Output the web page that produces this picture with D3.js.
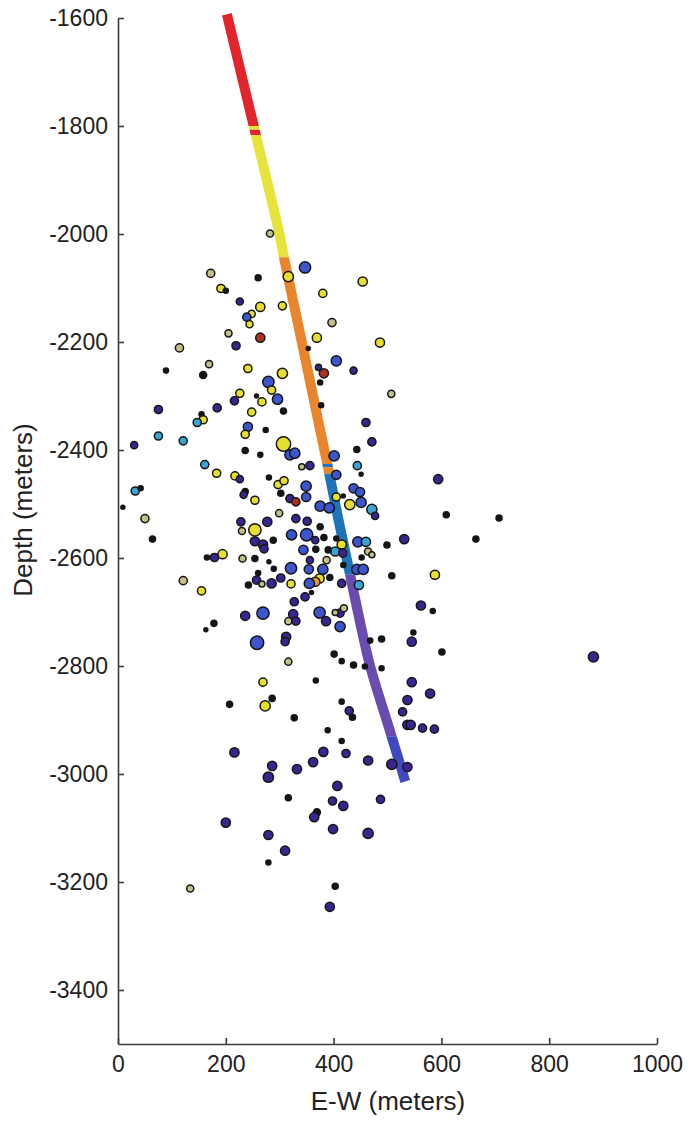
<!DOCTYPE html>
<html><head><meta charset="utf-8">
<script src="https://cdn.jsdelivr.net/npm/d3@7"></script>
<style>body{margin:0;background:#fff} svg{display:block}</style>
</head><body><svg id="chart" width="693" height="1124"></svg>
<script>
// ---- Data ----
const eventEW = [172,260,316,347,191,200,226,264,305,248,239,244,205,264,219,114,169,89,158,241,305,279,285,226,216,257,267,296,307,248,184,75,155,158,147,241,236,274,75,121,30,307,319,328,236,264,
454,380,397,369,486,353,405,372,382,437,375,507,377,460,471,443,401,
356,341,444,451,405,594,349,349,375,392,405,418,437,449,430,451,471,477,609,707,351,375,350,366,382,405,415,403,417,445,460,499,531,664,344,367,390,464,471,452,356,387,418,354,380,443,455,508,588,374,366,393,355,415,447,347,359,562,584,374,386,412,419,403,412,468,489,548,545,601,401,415,437,458,489,
161,183,217,226,280,297,308,32,42,236,233,254,302,319,330,9,50,299,228,277,330,254,230,288,254,269,271,322,64,165,179,194,231,254,280,289,321,302,260,257,285,242,267,321,121,155,327,269,236,325,316,330,178,163,258,312,310,316,
269,367,207,273,286,327,389,216,381,362,286,332,279,316,369,364,200,279,310,279,134,
545,579,537,415,429,435,528,537,543,565,587,415,423,464,508,537,407,398,418,487,399,464,403,393,282,882];
const eventDepth = [-2073,-2081,-2079,-2062,-2101,-2105,-2125,-2135,-2133,-2148,-2154,-2167,-2184,-2192,-2207,-2211,-2241,-2253,-2261,-2249,-2258,-2274,-2289,-2295,-2309,-2300,-2311,-2306,-2328,-2330,-2322,-2325,-2334,-2344,-2349,-2357,-2371,-2363,-2374,-2383,-2391,-2389,-2409,-2406,-2401,-2409,
-2088,-2110,-2164,-2192,-2201,-2212,-2235,-2247,-2258,-2253,-2275,-2296,-2317,-2349,-2385,-2399,-2411,
-2429,-2431,-2429,-2445,-2446,-2454,-2467,-2487,-2504,-2507,-2487,-2485,-2471,-2478,-2501,-2497,-2510,-2522,-2520,-2526,-2532,-2542,-2557,-2567,-2562,-2564,-2575,-2588,-2591,-2570,-2570,-2576,-2565,-2565,-2585,-2584,-2585,-2588,-2594,-2599,-2604,-2604,-2613,-2621,-2621,-2621,-2621,-2633,-2631,-2638,-2644,-2636,-2647,-2647,-2650,-2672,-2664,-2688,-2698,-2701,-2717,-2702,-2693,-2701,-2727,-2753,-2750,-2738,-2755,-2774,-2778,-2791,-2798,-2801,-2804,
-2427,-2443,-2448,-2454,-2451,-2464,-2457,-2476,-2471,-2477,-2483,-2493,-2480,-2490,-2496,-2506,-2527,-2517,-2533,-2533,-2527,-2548,-2550,-2567,-2569,-2575,-2583,-2557,-2565,-2599,-2599,-2593,-2601,-2601,-2607,-2620,-2619,-2637,-2628,-2641,-2647,-2650,-2648,-2648,-2642,-2661,-2681,-2702,-2707,-2704,-2717,-2717,-2721,-2733,-2757,-2746,-2755,-2792,
-2830,-2827,-2871,-2874,-2860,-2896,-2919,-2960,-2959,-2978,-2985,-2991,-3006,-3044,-3071,-3080,-3090,-3113,-3142,-3164,-3212,
-2830,-2851,-2863,-2866,-2883,-2895,-2885,-2909,-2909,-2915,-2917,-2939,-2962,-2975,-2982,-2987,-3022,-3050,-3059,-3047,-3102,-3110,-3208,-3246,-1999,-2783];
const eventMag = [-1,-1.5,-0.5,-0.25,-1,-1.75,-1.25,-0.75,-1,-1.25,-1,-1.25,-1.25,-0.75,-1,-1,-1.25,-1.75,-1.25,-1,-0.5,-0.25,-1,-1,-1,-2,-1,-0.5,-1.5,-1,-1,-1,-1.75,-1,-1,-0.75,-1,-1.75,-1,-1,-1.25,0.5,-0.5,-0.5,-1.5,-1.75,
-0.75,-1,-1,-0.75,-0.75,-2,-0.5,-1.5,-0.75,-1.25,-1.75,-1.25,-1.75,-1,-1,-1.5,-0.5,
-1,-1.5,-1,-2,-0.75,-0.75,-0.5,-0.75,-0.5,-0.5,-1,-2,-0.75,-0.75,-0.5,-0.5,-0.5,-1.25,-1.5,-1.5,-1,-1.5,0,-1.25,-1.5,-1.75,-0.75,-0.75,-1,-0.5,-0.75,-1.5,-0.75,-1.5,-0.75,-1.5,-1.5,-1.25,-1.5,-1.75,-1.25,-1.25,-1.75,-0.75,-0.5,-0.5,-0.5,-1.5,-0.75,-0.75,-0.75,-1.5,-0.5,-1,-0.75,-1,-2,-0.75,-1.75,-0.25,-0.75,-1,-1.25,-1.5,-0.5,-1.75,-1.5,-1.75,-0.75,-1.5,-1.5,-1.75,-1.5,-1.75,-1.75,
-1,-1,-1,-1.25,-1.75,-1,-1,-1,-1.75,-1.5,-1.25,-1,-1.5,-1,-1,-2,-1,-1.25,-1,-0.75,-1,0,-1.25,-1.5,-0.75,-0.75,-1,-0.5,-1.5,-1.75,-1,-0.75,-1.25,-1.5,-2,-1.75,-0.25,-1,-1.75,-1,-0.75,-1.5,-1.5,-1,-1,-1,-1,0,-0.75,-0.75,-1.25,-1,-1.5,-2,0.25,-0.75,-1,-1.25,
-1,-1.75,-1.5,-0.5,-1.5,-1.5,-1.75,-0.75,-0.75,-0.75,-0.75,-0.75,-0.5,-1.5,-1.25,-0.75,-0.75,-0.75,-0.75,-1.75,-1.25,
-0.75,-0.75,-0.75,-1.75,-1,-1.5,-1,-0.75,-0.75,-1,-1,-1.75,-1,-0.75,-0.5,-0.75,-0.75,-1,-0.75,-1,-0.75,-0.5,-1.5,-0.75,-1.25,-0.5];
const eventGroup = ["O","K","Y","B","Y","K","N","Y","Y","Y","B","Y","O","R","N","O","O","K","K","Y","Y","B","Y","Y","N","K","Y","B","K","Y","N","N","K","Y","C","B","Y","K","C","C","N","Y","B","B","K","K",
"Y","Y","O","Y","Y","K","B","N","R","N","K","O","K","N","N","K","B",
"N","O","C","K","B","N","B","B","B","B","Y","K","B","B","Y","B","C","N","K","K","N","K","B","N","K","K","Y","C","N","B","C","K","N","K","B","K","K","O","O","K","N","O","K","B","B","B","B","K","Y","Y","Or","K","B","N","C","N","K","N","K","B","N","N","O","O","B","K","K","K","N","K","K","K","K","K","K",
"C","Y","Y","N","K","Y","Y","C","K","K","N","Y","K","N","R","K","O","O","N","N","N","Y","O","K","N","N","N","B","K","K","N","Y","O","K","K","K","B","N","K","N","N","K","O","Y","O","Y","N","B","N","N","O","N","K","K","B","N","N","O",
"Y","K","K","Y","K","K","K","N","N","N","N","N","N","K","K","N","N","N","N","K","O",
"N","N","N","K","N","K","N","N","N","N","N","K","N","N","N","N","N","N","N","N","N","N","K","N","O","N"];

const wellEW    = [202, 252, 299, 308, 341, 375, 388, 408, 430, 447, 468, 502, 533];
const wellDepth = [-1593, -1801, -1998, -2044, -2200, -2363, -2424, -2524, -2628, -2709, -2801, -2912, -3014];
const stageTop    = [-1590, -1800, -1807, -1817, -2043, -2426, -2432, -2444, -2631, -2930];
const stageBottom = [-1800, -1807, -1817, -2043, -2426, -2432, -2444, -2631, -2930, -3020];
const stageKey    = ["s1","s2","s1","s2","s3","s4","s3","s4","s5","s6"];

const xTicks = [0, 200, 400, 600, 800, 1000];
const yTicks = [-1600, -1800, -2000, -2200, -2400, -2600, -2800, -3000, -3200, -3400];

// ---- Styles ----
const stageColor = {s1:"#e4242b", s2:"#e6e43a", s3:"#e9852c", s4:"#1f73b8", s5:"#6a4bb0", s6:"#4049bf"};
const groupColor = {Y:"#e6df2e", B:"#3d55cc", N:"#3a2590", C:"#3ba3d3", K:"#151515", O:"#c2bf8a", R:"#a8321f", Or:"#ee9a22"};
const font = "'Liberation Sans', Arial, Helvetica, sans-serif";

const svg = d3.select("#chart");
const x = d3.scaleLinear().domain([0, 1000]).range([118, 657]);
const y = d3.scaleLinear().domain([-1600, -3500]).range([18, 1044]);
const r = d3.scaleLinear().domain([-2, 0.5]).range([2, 7.2]);

// well trajectory, coloured by stage
const defs = svg.append("defs");
const wellPts = wellEW.map((e, i) => [e, wellDepth[i]]);
const line = d3.line().x(d => x(d[0])).y(d => y(d[1])).curve(d3.curveCatmullRom.alpha(0.5));
stageTop.forEach((t, i) => {
  defs.append("clipPath").attr("id", "clip" + i)
    .append("rect").attr("x", 0).attr("width", 693)
    .attr("y", y(t)).attr("height", y(stageBottom[i]) - y(t));
  svg.append("path").datum(wellPts)
    .attr("clip-path", "url(#clip" + i + ")")
    .attr("d", line).attr("fill", "none")
    .attr("stroke", stageColor[stageKey[i]]).attr("stroke-width", 10);
});

// events
const events = eventEW.map((e, i) => ({e, d: eventDepth[i], m: eventMag[i], g: eventGroup[i]}));
svg.append("g").selectAll("circle").data(events).join("circle")
  .attr("cx", d => x(d.e)).attr("cy", d => y(d.d)).attr("r", d => r(d.m))
  .attr("fill", d => groupColor[d.g]).attr("stroke", "#161616").attr("stroke-width", 1.5);

// axes
const gx = svg.append("g").attr("transform", `translate(0,${y(-3500)})`)
  .call(d3.axisBottom(x).tickValues(xTicks).tickSize(-6).tickSizeOuter(0).tickPadding(12).tickFormat(d => String(d)));
const gy = svg.append("g").attr("transform", `translate(${x(0)},0)`)
  .call(d3.axisLeft(y).tickValues(yTicks).tickSize(-6).tickSizeOuter(0).tickPadding(10).tickFormat(d => String(d)));
[gx, gy].forEach(g => {
  g.select(".domain").attr("stroke", "#3a3a3a").attr("stroke-width", 1.6);
  g.selectAll(".tick line").attr("stroke", "#3a3a3a").attr("stroke-width", 1.6);
  g.selectAll(".tick text").attr("font-family", font).attr("font-size", 23).attr("fill", "#222");
});

svg.append("text").attr("x", 388).attr("y", 1110).attr("text-anchor", "middle")
  .attr("font-family", font).attr("font-size", 26).attr("fill", "#222").text("E-W (meters)");
svg.append("text").attr("transform", "translate(32,510) rotate(-90)").attr("text-anchor", "middle")
  .attr("font-family", font).attr("font-size", 26).attr("fill", "#222").text("Depth (meters)");
</script></body></html>
